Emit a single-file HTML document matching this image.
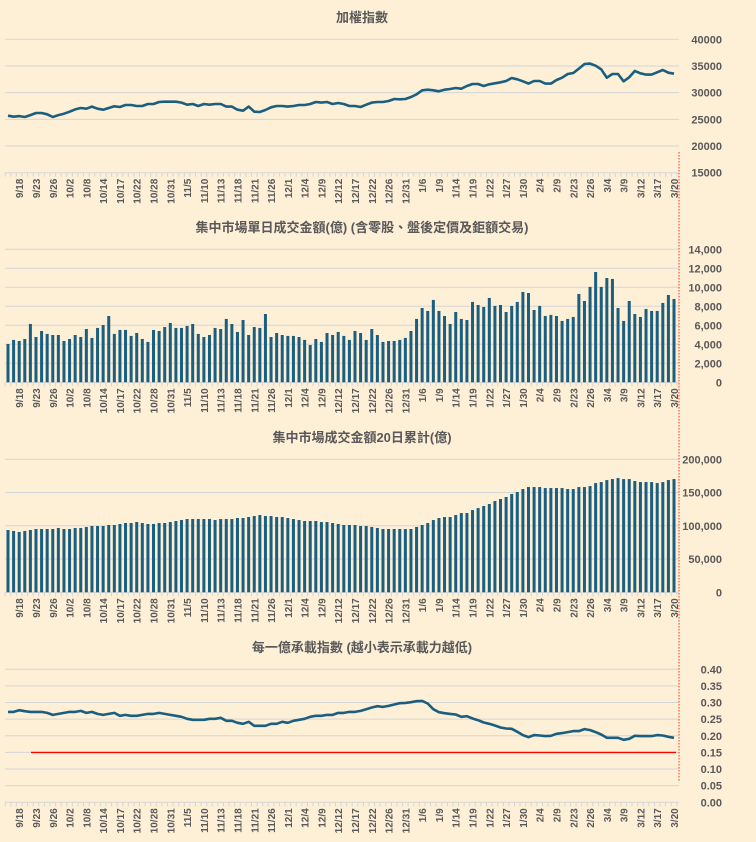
<!DOCTYPE html>
<html><head><meta charset="utf-8"><style>
html,body{margin:0;padding:0;background:#FEEFD7;}
svg{display:block;font-family:"Liberation Sans","Noto Sans CJK TC",sans-serif;}
</style></head><body>
<svg id="c" width="756" height="842" viewBox="0 0 756 842"></svg>
<script>
const dateLabels=["9/18","9/23","9/26","10/2","10/8","10/14","10/17","10/22","10/28","10/31","11/5","11/10","11/13","11/18","11/21","11/26","12/1","12/4","12/9","12/12","12/17","12/22","12/26","12/31","1/6","1/9","1/14","1/19","1/22","1/27","1/30","2/4","2/9","2/23","2/26","3/4","3/9","3/12","3/17","3/20"];
const indexValues=[25690,25500,25600,25440,25800,26190,26190,25940,25440,25800,26060,26440,26870,27120,27000,27380,27000,26810,27120,27440,27310,27690,27690,27500,27500,27880,27880,28250,28310,28310,28310,28130,27750,27880,27500,27880,27750,27880,27880,27380,27380,26810,26620,27380,26440,26380,26750,27250,27500,27500,27380,27500,27690,27690,27880,28250,28130,28250,27880,28060,27880,27500,27500,27310,27750,28130,28250,28250,28440,28810,28750,28810,29190,29690,30440,30560,30440,30250,30560,30690,30880,30750,31250,31630,31630,31250,31560,31750,31940,32190,32750,32500,32130,31690,32190,32190,31690,31690,32380,32810,33500,33690,34500,35380,35440,35060,34380,32810,33500,33500,32130,32880,34060,33630,33380,33380,33810,34250,33750,33560];
const dailyTurnover=[4035,4460,4350,4560,6140,4770,5400,5090,4980,4980,4350,4560,4980,4770,5610,4670,5720,6030,6980,5090,5510,5510,4880,5190,4560,4250,5510,5400,5820,6250,5720,5720,5930,6140,5090,4770,4980,5720,5610,6670,6140,5300,6560,4980,5820,5720,7190,4770,5190,4980,4880,4880,4770,4460,3930,4560,4250,5190,4980,5300,4880,4460,5400,5190,4460,5610,4980,4250,4350,4350,4460,4670,5400,6670,7820,7510,8670,7510,6980,6140,7400,6670,6560,8460,8140,7930,8880,8040,8140,7400,8040,8460,9510,9400,7610,8040,6980,7090,6980,6460,6670,6880,9300,8560,10040,11610,10040,10980,10880,7820,6460,8560,7190,6880,7720,7510,7510,8350,9190,8770];
const turnover20d=[93700,92200,90700,92200,93700,95200,95200,95200,95200,96700,95200,95200,96700,96700,98200,99700,99700,99700,101200,101200,102700,104200,104200,105700,104200,102700,102700,104200,104200,105700,107200,108700,110200,110200,110200,110200,110200,108700,110200,110200,110200,111700,111700,113200,114700,116200,114700,114700,113200,113200,111700,110200,108700,107200,107200,107200,105700,105700,104200,102700,101200,101200,101200,99700,99700,98200,96700,95200,95200,95200,95200,95200,95200,98200,101200,104200,108700,111700,113200,113200,116200,119200,119200,123700,126700,129800,132800,137300,140300,143300,147800,150800,155300,158300,158300,158300,156800,156800,156800,156800,155300,155300,158300,158300,159800,164300,165800,168800,170300,171800,170300,170300,167300,165800,165800,165800,164300,165800,168800,170300];
const loadIndex=[.272,.272,.277,.274,.272,.272,.272,.269,.263,.266,.269,.272,.272,.275,.269,.272,.266,.263,.266,.269,.260,.263,.260,.260,.263,.266,.266,.269,.266,.263,.260,.257,.251,.248,.248,.248,.251,.251,.254,.245,.245,.239,.236,.242,.230,.230,.230,.236,.236,.242,.239,.245,.248,.251,.257,.260,.260,.263,.263,.269,.269,.272,.272,.275,.280,.285,.289,.287,.290,.294,.298,.299,.301,.304,.305,.297,.280,.271,.268,.266,.264,.257,.259,.252,.247,.240,.236,.231,.225,.222,.221,.212,.202,.196,.202,.201,.199,.200,.206,.208,.211,.214,.214,.220,.217,.211,.204,.194,.194,.194,.188,.191,.200,.199,.199,.199,.202,.201,.197,.194];
const indexTicks=[15000,20000,25000,30000,35000,40000];
const turnoverTicks=[0,2000,4000,6000,8000,10000,12000,14000];
const cumTicks=[0,50000,100000,150000,200000];
const loadTicks=[0,.05,.10,.15,.20,.25,.30,.35,.40];
const threshold=0.15;

const NS="http://www.w3.org/2000/svg";
const svg=document.getElementById('c');
function mk(tag,attrs,parent){const e=document.createElementNS(NS,tag);for(const k in attrs)e.setAttribute(k,attrs[k]);(parent||svg).appendChild(e);return e;}
const N=indexValues.length;
function xs(i){return 8+i*(666/119);}
const X0=5,X1=679,GRID="#D6D6D6",BAR="#1B5F80",TXT="#595959";

function panel(name,title,titleY,top,bottom,min,max,ticks,fmt){
  const g=mk('g',{});
  
  
  const t=mk('text',{x:362,y:titleY,'text-anchor':'middle','font-size':13,'font-weight':'bold',fill:TXT},g);
  t.textContent=title;
  
  
  const ys=v=>bottom-(v-min)/(max-min)*(bottom-top);
  ticks.forEach(v=>{
    const y=ys(v);
    const l=mk('line',{x1:X0,x2:X1,y1:y,y2:y,stroke:GRID,'stroke-width':1},g);
    
    
    const tx=mk('text',{x:722,y:y+4,'text-anchor':'end','font-size':11,'font-weight':'bold',fill:TXT},g);
    tx.textContent=fmt(v);
    
    
  });
  // x axis ticks
  for(let i=0;i<=N;i++){
    const x=xs(i)-2.8;
    mk('line',{x1:x,x2:x,y1:bottom,y2:bottom+4,stroke:GRID,'stroke-width':1},g);
  }
  dateLabels.forEach((d,k)=>{
    const i=2+3*k;
    const x=xs(i)+4;
    const tx=mk('text',{x:0,y:0,'text-anchor':'end','font-size':10,'font-weight':'bold',fill:TXT,transform:`translate(${x},${bottom+6}) rotate(-90)`},g);
    tx.textContent=d;
    
    
  });
  return {g,ys};
}
const comma=v=>v.toLocaleString('en-US');

// Panel 1
let p=panel('index-panel','加權指數',22,39.3,172.7,15000,40000,indexTicks,v=>String(v));
let path=indexValues.map((v,i)=>(i?'L':'M')+xs(i).toFixed(1)+','+p.ys(v).toFixed(1)).join(' ');
let ln=mk('path',{d:path,fill:'none',stroke:BAR,'stroke-width':2.6,'stroke-linejoin':'round'},p.g);



// Panel 2
p=panel('daily-turnover-panel','集中市場單日成交金額(億) (含零股、盤後定價及鉅額交易)',232,249.3,382.3,0,14000,turnoverTicks,comma);
dailyTurnover.forEach((v,i)=>{
  const y=p.ys(v);
  const r=mk('rect',{x:xs(i)-1.5,y:y,width:3,height:p.ys(0)-y,fill:BAR},p.g);
  
  
});

// Panel 3
p=panel('cumulative-turnover-panel','集中市場成交金額20日累計(億)',442,459.3,592.3,0,200000,cumTicks,comma);
turnover20d.forEach((v,i)=>{
  const y=p.ys(v);
  const r=mk('rect',{x:xs(i)-1.5,y:y,width:3,height:p.ys(0)-y,fill:BAR},p.g);
  
  
});

// Panel 4
p=panel('load-index-panel','每一億承載指數 (越小表示承載力越低)',652,669.3,802.3,0,0.40,loadTicks,v=>v.toFixed(2));
const ry=p.ys(threshold);
const red=mk('line',{x1:31,x2:676,y1:ry,y2:ry,stroke:'#FF0000','stroke-width':1.3},p.g);


path=loadIndex.map((v,i)=>(i?'L':'M')+xs(i).toFixed(1)+','+p.ys(v).toFixed(1)).join(' ');
ln=mk('path',{d:path,fill:'none',stroke:BAR,'stroke-width':2.6,'stroke-linejoin':'round'},p.g);



// red dotted marker
const dv=mk('line',{x1:679,x2:679,y1:152,y2:782,stroke:'#FF3030','stroke-width':1,'stroke-dasharray':'1.5,1.5'});


</script>
</body></html>
